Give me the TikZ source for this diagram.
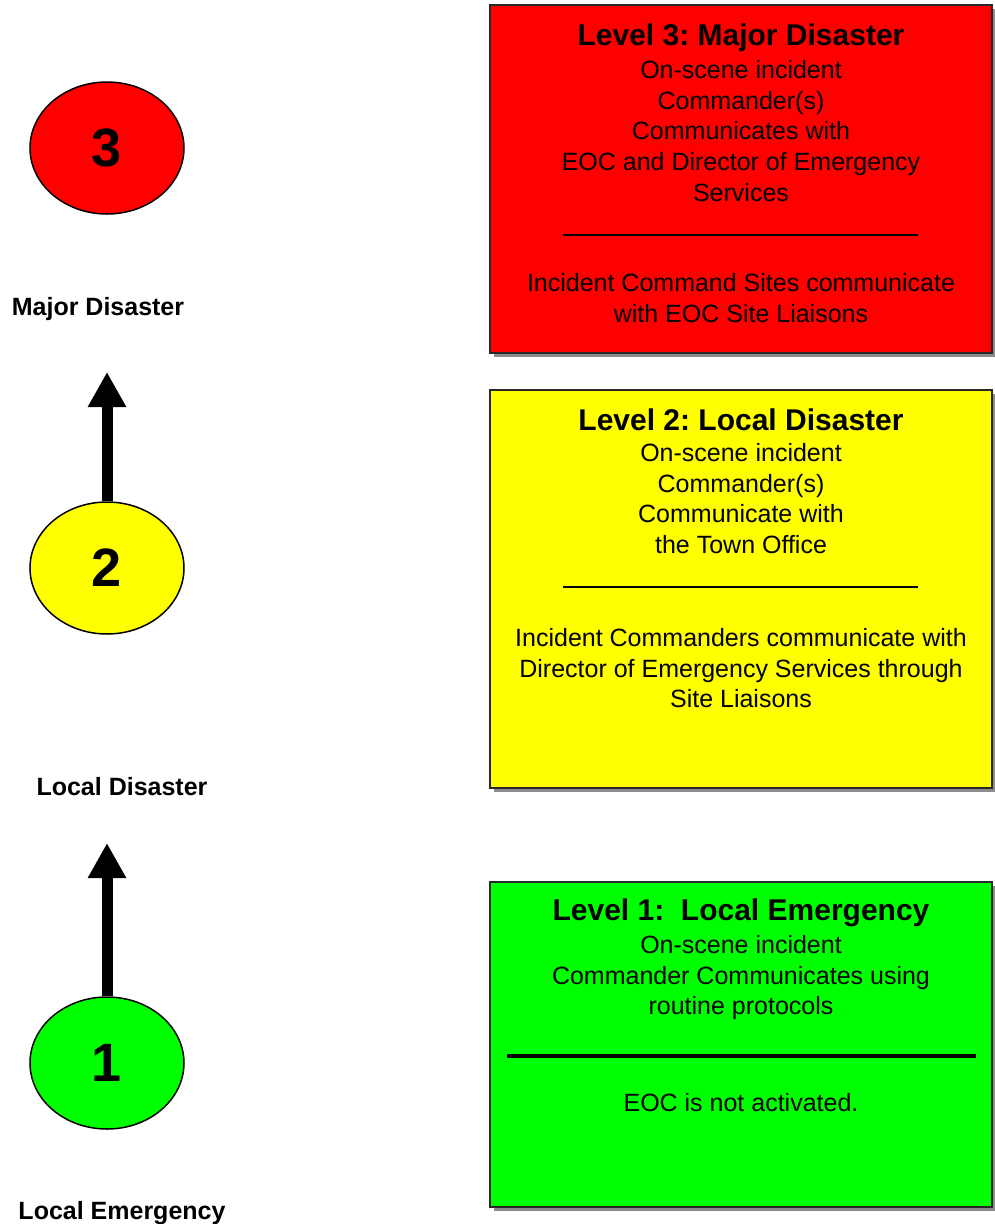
\documentclass[tikz,border=0pt]{standalone}
\usepackage{fontspec}
\setmainfont{Liberation Sans}
\usepackage{tikz}
\usetikzlibrary{arrows.meta, shapes.geometric, shadows, positioning}
\frenchspacing
\definecolor{LvlRed}{RGB}{255,0,0}
\definecolor{LvlYellow}{RGB}{255,255,0}
\definecolor{LvlGreen}{RGB}{0,255,0}
\definecolor{BoxEdge}{RGB}{40,40,40}
\definecolor{ShadowGray}{RGB}{140,140,140}
\tikzset{
  % Cerchi dei livelli
  level circle/.style={ellipse,draw=black,line width=1.5pt,minimum width=154pt,minimum height=132pt,inner sep=0pt,font=\fontsize{54}{54}\selectfont\bfseries},
  % Riquadri con ombra
  level box/.style={rectangle,draw=BoxEdge,line width=2pt,inner sep=0pt,drop shadow={shadow xshift=4pt,shadow yshift=-4pt,fill=ShadowGray,opacity=1}},
  box title/.style={anchor=base,inner sep=0pt,font=\fontsize{30}{34}\selectfont\bfseries},
  box text/.style={anchor=north,align=center,inner sep=0pt,font=\fontsize{25}{30.7}\selectfont},
  side label/.style={anchor=base,inner sep=0pt,font=\fontsize{25}{30}\selectfont\bfseries},
  % Frecce e separatori
  level arrow/.style={-{Triangle[width=36pt,length=35pt]},line width=11pt},
  sep thin/.style={line width=1.5pt},
  sep thick/.style={line width=4pt}
}

\begin{document}
\begin{tikzpicture}[x=1pt,y=-1pt]
        \useasboundingbox (0,0) rectangle (995,1224);
        \node[level circle,fill=LvlRed] (c3) at (107,148) {3};
        \node[level circle,fill=LvlYellow] (c2) at (107,568) {2};
        \node[level circle,fill=LvlGreen] (c1) at (107,1063) {1};
        \node[side label] (l3) at (98,315) {Major Disaster};
        \node[side label] (l2) at (122,795) {Local Disaster};
        \node[side label] (l1) at (122,1219) {Local Emergency};
        \coordinate (up2) at (107,372);
        \coordinate (up1) at (107,843);
        \draw[level arrow] (c2.north)--(up2);
        \draw[level arrow] (c1.north)--(up1);
        \node[level box,fill=LvlRed,minimum width=502pt,minimum height=348pt] (b3) at (741,179) {};
        \node[level box,fill=LvlYellow,minimum width=502pt,minimum height=398pt] (b2) at (741,589) {};
        \node[level box,fill=LvlGreen,minimum width=502pt,minimum height=325pt] (b1) at (741,1044.5) {};
        \node[box title] (t3) at (741,45) {Level 3: Major Disaster};
        \node[box text] (u3) at (741,60) {On-scene incident\\Commander(s)\\Communicates with\\EOC and Director of Emergency\\Services};
        \draw[sep thin] (563,235)--(918,235);
        \node[box text] (d3) at (741,273) {Incident Command Sites communicate\\with EOC Site Liaisons};
        \node[box title] (t2) at (741,430) {Level 2: Local Disaster};
        \node[box text] (u2) at (741,443) {On-scene incident\\Commander(s)\\Communicate with\\the Town Office};
        \draw[sep thin] (563,587)--(918,587);
        \node[box text] (d2) at (741,628) {Incident Commanders communicate with\\Director of Emergency Services through\\Site Liaisons};
        \node[box title] (t1) at (741,920) {Level 1:\ \ Local Emergency};
        \node[box text] (u1) at (741,935) {On-scene incident\\Commander Communicates using\\routine protocols};
        \draw[sep thick] (507,1056)--(976,1056);
        \node[box text] (d1) at (741,1093) {EOC is not activated.};
      \end{tikzpicture}
\end{document}
